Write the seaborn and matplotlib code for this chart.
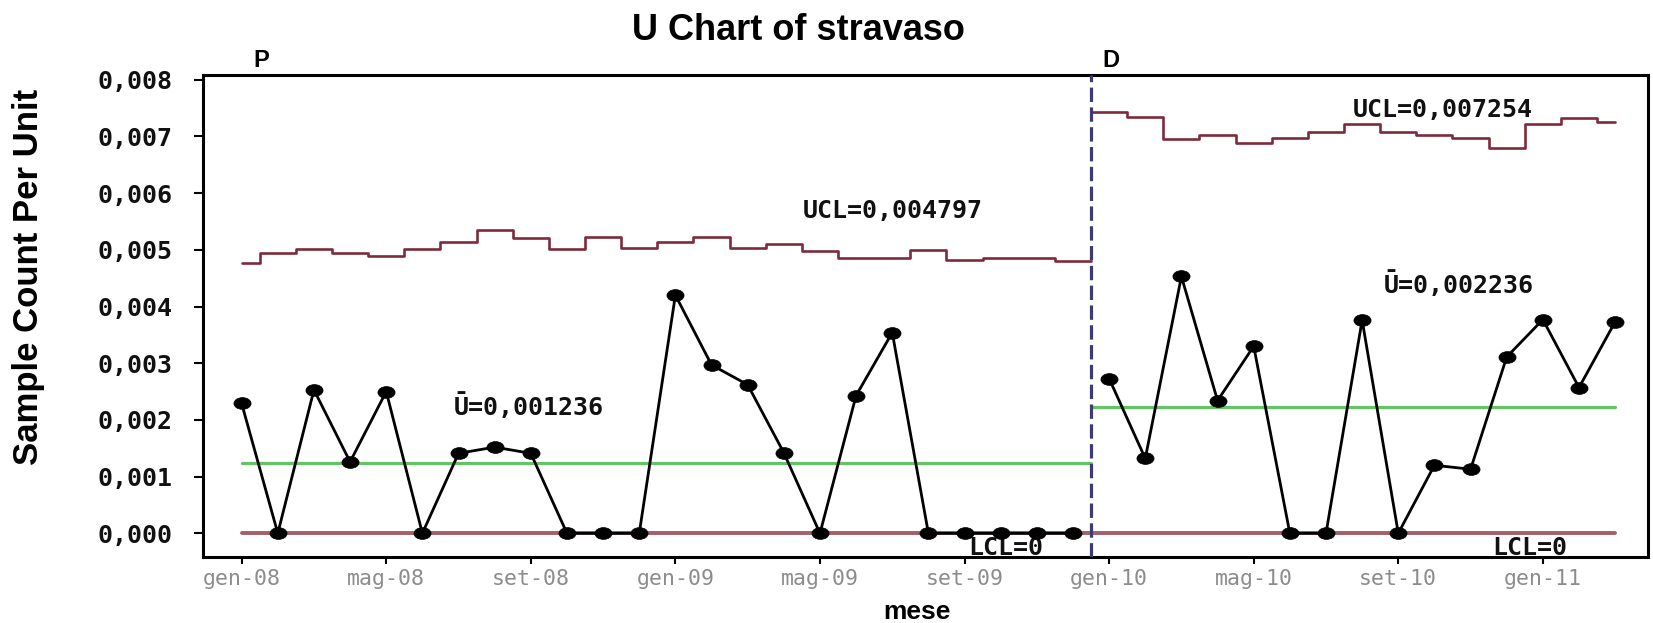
import numpy as np
import pandas as pd
import matplotlib
matplotlib.use("Agg")
import matplotlib.pyplot as plt
from matplotlib.markers import MarkerStyle
from matplotlib.transforms import Affine2D, blended_transform_factory
from matplotlib.ticker import FuncFormatter, FixedLocator
import seaborn as sns

# ---------------- data ----------------
u_P = [0.00229, 0.0, 0.00253, 0.00126, 0.00250, 0.0, 0.00141, 0.00152, 0.00141,
       0.0, 0.0, 0.0, 0.00420, 0.00297, 0.00262, 0.00142, 0.0, 0.00243, 0.00354,
       0.0, 0.0, 0.0, 0.0, 0.0]
u_D = [0.00273, 0.00132, 0.00453, 0.00234, 0.00330, 0.0, 0.0, 0.00376, 0.0,
       0.00120, 0.00113, 0.00311, 0.00377, 0.00257, 0.00373]
ucl_P = [0.00477, 0.00494, 0.00501, 0.00494, 0.00489, 0.00501, 0.00513, 0.00535,
         0.00520, 0.00501, 0.00522, 0.00503, 0.00513, 0.00523, 0.00504, 0.00510,
         0.00498, 0.00486, 0.00486, 0.00500, 0.00482, 0.00485, 0.00485, 0.004797]
ucl_D = [0.00743, 0.00734, 0.00695, 0.00702, 0.00688, 0.00698, 0.00707, 0.00722,
         0.00708, 0.00702, 0.00698, 0.00679, 0.00722, 0.00733, 0.007254]
cl_P = 0.001236
cl_D = 0.002236
lcl = 0.0
tick_pos = [1, 5, 9, 13, 17, 21, 25, 29, 33, 37]
tick_labels = ["gen-08", "mag-08", "set-08", "gen-09", "mag-09", "set-09",
               "gen-10", "mag-10", "set-10", "gen-11"]
y_ticks = [0.000, 0.001, 0.002, 0.003, 0.004, 0.005, 0.006, 0.007, 0.008]
stages = ["P", "D"]

# ---------------- style ----------------
sns.set_theme(style="white")
plt.rcParams['font.family'] = ['Liberation Sans', 'DejaVu Sans']
MONO = ['DejaVu Sans Mono']

c_ucl = '#7E2A3A'
c_lcl = '#A3606B'
c_cl = '#62C462'
c_dash = '#3C3C70'

fig = plt.figure(figsize=(16.53, 6.23), dpi=100)
ax = fig.add_axes([0.1226, 0.1064, 0.997 - 0.1226, 0.8796 - 0.1064])

nP, nD = len(u_P), len(u_D)
idx_P = np.arange(1, nP + 1)
idx_D = np.arange(nP + 1, nP + nD + 1)
split = nP + 0.5

df = pd.DataFrame({"idx": np.concatenate([idx_P, idx_D]),
                   "u": u_P + u_D,
                   "stage": [stages[0]] * nP + [stages[1]] * nD})

ucl_df_P = pd.DataFrame({"idx": list(idx_P) + [split], "ucl": ucl_P + [ucl_P[-1]]})
ucl_df_D = pd.DataFrame({"idx": [split] + list(idx_D), "ucl": [ucl_D[0]] + ucl_D})
cl_df_P = pd.DataFrame({"idx": [1, split], "v": [cl_P, cl_P]})
cl_df_D = pd.DataFrame({"idx": [split, nP + nD], "v": [cl_D, cl_D]})
lcl_df = pd.DataFrame({"idx": [1, nP + nD], "v": [lcl, lcl]})

# limits
sns.lineplot(data=lcl_df, x="idx", y="v", color=c_lcl, lw=2.8, ax=ax, estimator=None)
sns.lineplot(data=cl_df_P, x="idx", y="v", color=c_cl, lw=2.3, ax=ax, estimator=None)
sns.lineplot(data=cl_df_D, x="idx", y="v", color=c_cl, lw=2.3, ax=ax, estimator=None)
sns.lineplot(data=ucl_df_P, x="idx", y="ucl", color=c_ucl, lw=1.9, drawstyle="steps-mid",
             ax=ax, estimator=None)
sns.lineplot(data=ucl_df_D, x="idx", y="ucl", color=c_ucl, lw=1.9, drawstyle="steps-mid",
             ax=ax, estimator=None)

# stage divider
ax.axvline(split, color=c_dash, lw=2.3, linestyle=(0, (4.5, 1.7)), zorder=3)

# data
mk = MarkerStyle('o', transform=Affine2D().scale(1.45, 1.0))
sns.lineplot(data=df, x="idx", y="u", hue="stage", palette={"P": "black", "D": "black"},
             marker=mk, markersize=8.5, markeredgecolor="black", markeredgewidth=0.5,
             lw=2.0, legend=False, estimator=None, ax=ax, zorder=5)

# axes
ax.set_xlim(-0.079, 39.91)
ax.set_ylim(-0.000413, 0.008083)
ax.xaxis.set_major_locator(FixedLocator(tick_pos))
ax.set_xticklabels(tick_labels)
ax.yaxis.set_major_locator(FixedLocator(y_ticks))
ax.yaxis.set_major_formatter(FuncFormatter(lambda v, p: f"{v:.3f}".replace(".", ",")))
ax.set_xlabel("")
ax.set_ylabel("")
for s in ax.spines.values():
    s.set_visible(True)
    s.set_color("black")
    s.set_linewidth(2.2)
ax.tick_params(axis='y', direction='out', length=6.5, width=1.5, color='black', pad=15,
               left=True, labelsize=18, labelcolor='#111111')
ax.tick_params(axis='x', direction='out', length=5, width=1.5, color='black', pad=4,
               bottom=True, labelsize=15.5, labelcolor='#8c8c8c')
for lab in ax.get_yticklabels():
    lab.set_family(MONO)
    lab.set_fontweight('bold')
for lab in ax.get_xticklabels():
    lab.set_family(MONO)

# labels on chart
lab_kw = dict(family=MONO, fontsize=18, color='#111111', ha='center', va='baseline',
              fontweight='bold')
ax.text(19.02, 0.005561, "UCL=0,004797", **lab_kw)
ax.text(8.95, 0.002086, "Ū=0,001236", **lab_kw)
ax.text(34.23, 0.007347, "UCL=0,007254", **lab_kw)
ax.text(34.66, 0.004238, "Ū=0,002236", **lab_kw)
ax.text(22.15, -0.000383, "LCL=0", **lab_kw)
ax.text(36.65, -0.000383, "LCL=0", **lab_kw)

bt = blended_transform_factory(ax.transData, ax.transAxes)
ax.text(1.33, 1.0166, stages[0], transform=bt, fontsize=17, ha='left', va='baseline',
        color='black', fontweight='bold')
ax.text(24.82, 1.0166, stages[1], transform=bt, fontsize=17, ha='left', va='baseline',
        color='black', fontweight='bold')

fig.text(0.483, 1 - 40 / 623, "U Chart of stravaso", ha='center', va='baseline',
         fontsize=26, fontweight='bold', color='black')
fig.text(29 / 1653, 1 - 277 / 623, "Sample Count Per Unit", rotation=90, ha='center',
         va='center', fontsize=25, fontweight='bold', color='black')
fig.text(917 / 1653, 4 / 623, "mese", ha='center', va='baseline', fontsize=19,
         fontweight='bold', color='black')

fig.savefig("out.png", dpi=100, facecolor='white')
